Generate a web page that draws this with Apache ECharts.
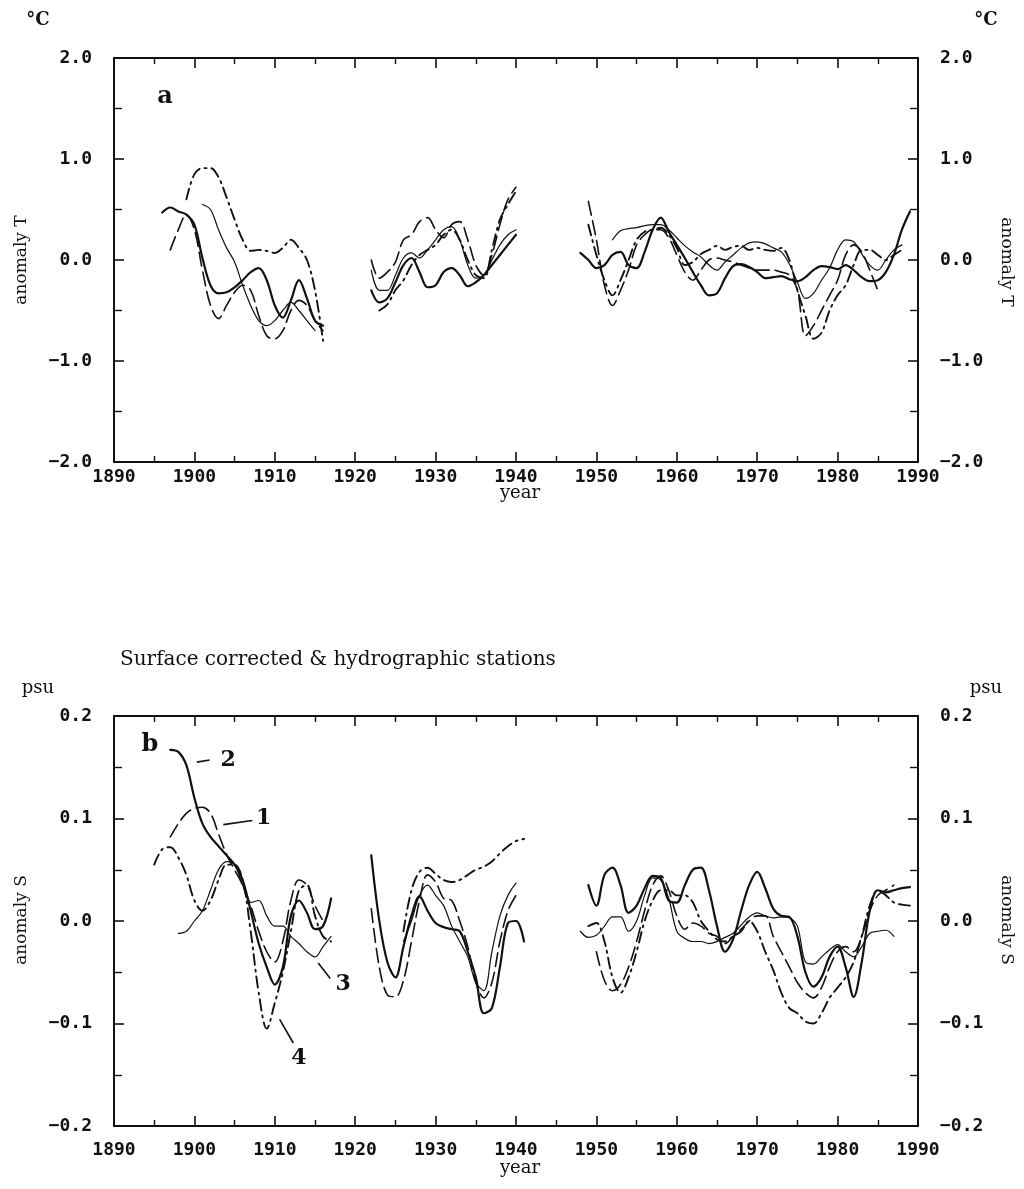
<!DOCTYPE html>
<html>
<head>
<meta charset="utf-8">
<script src="https://cdn.jsdelivr.net/npm/echarts@6/dist/echarts.min.js"></script>
<style>
  html, body { margin: 0; padding: 0; background: #fff; }
  #chart { width: 1024px; height: 1189px; }
</style>
</head>
<body>
<div id="chart"></div>
<script>
// years 1895 .. 1990, one value per year, null = no data
const years = [];
for (let y = 1895; y <= 1990; y++) years.push(y);

const xTicks = [1890, 1900, 1910, 1920, 1930, 1940, 1950, 1960, 1970, 1980, 1990];
const tempTicks = [-2, -1, 0, 1, 2];
const salTicks = [-0.2, -0.1, 0, 0.1, 0.2];

// panel a: temperature anomaly (°C)
const tempLongDash = [
  null, null, 0.1, 0.3, 0.45,
  0.3, -0.1, -0.45, -0.58, -0.45, -0.32, -0.25, -0.3, -0.55, -0.75,
  -0.78, -0.7, -0.5, -0.4, -0.45, -0.6, -0.7, null, null, null,
  null, null, 0.0, -0.18, -0.12, -0.02, 0.2, 0.25, 0.38, 0.42,
  0.3, 0.22, 0.35, 0.38, 0.2, -0.05, -0.15, 0.05, 0.35, 0.6,
  0.72, null, null, null, null, null, null, null, null, 0.58,
  0.2, -0.25, -0.45, -0.3, -0.1, 0.15, 0.25, 0.3, 0.3, 0.22,
  0.05, -0.12, -0.2, -0.1, 0.0, 0.02, 0.0, -0.02, -0.05, -0.08,
  -0.1, -0.1, -0.1, -0.12, -0.15, -0.3, -0.75, -0.65, -0.5, -0.35,
  -0.2, 0.05, 0.15, 0.08, -0.1, -0.3, null, null, null, null,
  null
];
const tempSolid = [
  null, 0.47, 0.52, 0.48, 0.45,
  0.35, 0.02, -0.25, -0.33, -0.32, -0.27, -0.2, -0.12, -0.08, -0.2,
  -0.45, -0.57, -0.4, -0.2, -0.38, -0.6, -0.65, null, null, null,
  null, null, -0.3, -0.42, -0.38, -0.22, -0.05, 0.02, -0.12, -0.27,
  -0.25, -0.12, -0.08, -0.15, -0.26, -0.22, -0.15, -0.05, 0.05, 0.15,
  0.25, null, null, null, null, null, null, null, 0.07, 0.0,
  -0.08, -0.05, 0.05, 0.08, -0.05, -0.08, 0.08, 0.3, 0.42, 0.28,
  0.15, 0.02, -0.12, -0.25, -0.35, -0.33, -0.18, -0.06, -0.04, -0.07,
  -0.12, -0.18, -0.17, -0.16, -0.19, -0.21, -0.17, -0.1, -0.06, -0.07,
  -0.09, -0.05, -0.1, -0.17, -0.21, -0.2, -0.12, 0.05, 0.3, 0.48,
  null
];
const tempThin = [
  null, null, null, null, null,
  null, 0.55, 0.5, 0.3, 0.12, -0.02, -0.25, -0.45, -0.6, -0.65,
  -0.6, -0.5, -0.42, -0.5, -0.6, -0.7, null, null, null, null,
  null, null, -0.1, -0.3, -0.3, -0.15, 0.02, 0.07, 0.02, 0.1,
  0.2, 0.3, 0.33, 0.2, -0.05, -0.18, -0.15, 0.0, 0.15, 0.25,
  0.3, null, null, null, null, null, null, null, null, null,
  null, null, 0.2, 0.29, 0.31, 0.32, 0.34, 0.35, 0.35, 0.3,
  0.22, 0.14, 0.08, 0.03, -0.05, -0.1, -0.02, 0.05, 0.12, 0.17,
  0.18, 0.16, 0.12, 0.08, -0.04, -0.22, -0.38, -0.33, -0.2, -0.08,
  0.1, 0.2, 0.18, 0.06, -0.05, -0.1, 0.0, 0.1, 0.15, null,
  null
];
const tempDashDot = [
  null, null, null, null, 0.6,
  0.85, 0.91, 0.91, 0.82, 0.62, 0.4, 0.2, 0.09, 0.1, 0.09,
  0.07, 0.12, 0.2, 0.12, 0.0, -0.3, -0.8, null, null, null,
  null, null, null, -0.5, -0.44, -0.3, -0.2, -0.05, 0.05, 0.1,
  0.15, 0.25, 0.3, 0.2, 0.0, -0.15, -0.18, 0.1, 0.4, 0.55,
  0.68, null, null, null, null, null, null, null, null, 0.35,
  0.05, -0.2, -0.35, -0.2, 0.0, 0.2, 0.28, 0.3, 0.32, 0.25,
  0.12, -0.05, -0.02, 0.06, 0.1, 0.14, 0.1, 0.13, 0.14, 0.1,
  0.12, 0.1, 0.09, 0.12, 0.0, -0.3, -0.55, -0.78, -0.72, -0.5,
  -0.35, -0.25, -0.05, 0.1, 0.1, 0.05, 0.0, 0.05, 0.1, null,
  null
];

// panel b: salinity anomaly (psu)
const salLongDash = [
  null, null, 0.082, 0.095, 0.105,
  0.11, 0.111, 0.105, 0.085, 0.065, 0.05, 0.035, 0.015, -0.01, -0.03,
  -0.04, -0.02, 0.02, 0.04, 0.035, 0.015, 0.0, null, null, null,
  null, null, 0.012, -0.045, -0.072, -0.074, -0.058, -0.02, 0.02, 0.045,
  0.038, 0.022, 0.02, 0.0, -0.025, -0.06, -0.075, -0.06, -0.02, 0.01,
  0.025, null, null, null, null, null, null, null, null, null,
  -0.03, -0.058, -0.068, -0.062, -0.045, -0.02, 0.01, 0.035, 0.044, 0.03,
  0.005, -0.008, -0.002, -0.005, -0.012, -0.015, -0.022, -0.015, -0.008, 0.0,
  0.005, 0.005, -0.015, -0.03, -0.045, -0.06, -0.07, -0.075, -0.065, -0.045,
  -0.03, -0.025, -0.03, -0.015, 0.01, 0.025, 0.03, 0.035, null, null,
  null
];
const salSolid = [
  null, null, 0.167, 0.165, 0.152,
  0.12, 0.095, 0.082, 0.073, 0.064, 0.055, 0.04, 0.01, -0.022, -0.045,
  -0.062, -0.045, 0.005, 0.02, 0.008, -0.008, -0.005, 0.022, null, null,
  null, null, 0.064, 0.0, -0.04, -0.055, -0.025, 0.005, 0.024, 0.01,
  -0.002, -0.006, -0.008, -0.01, -0.03, -0.055, -0.09, -0.085, -0.045, -0.002,
  0.0, -0.02, null, null, null, null, null, null, null, 0.035,
  0.015, 0.045, 0.052, 0.035, 0.008, 0.015, 0.032, 0.044, 0.042, 0.02,
  0.018, 0.035, 0.05, 0.052, 0.03, -0.005, -0.03, -0.018, 0.01, 0.035,
  0.048, 0.032, 0.012, 0.005, 0.004, -0.015, -0.05, -0.064, -0.055, -0.035,
  -0.025, -0.045, -0.074, -0.04, 0.01, 0.03, 0.028, 0.03, 0.032, 0.033,
  null
];
const salThin = [
  null, null, null, -0.012, -0.01,
  0.0, 0.01, 0.03, 0.05, 0.058, 0.055, 0.035, 0.018, 0.02, 0.005,
  -0.005, -0.005, -0.015, -0.022, -0.03, -0.035, -0.025, -0.015, null, null,
  null, null, null, null, null, null, -0.02, 0.0, 0.025, 0.035,
  0.025, 0.015, -0.005, -0.02, -0.035, -0.06, -0.068, -0.03, 0.005, 0.025,
  0.037, null, null, null, null, null, null, null, -0.01, -0.016,
  -0.014, -0.005, 0.004, 0.004, -0.01, 0.0, 0.025, 0.042, 0.04, 0.022,
  -0.01, -0.017, -0.02, -0.02, -0.022, -0.02, -0.016, -0.012, -0.004, 0.004,
  0.008, 0.005, 0.003, 0.004, 0.003, -0.005, -0.04, -0.042, -0.035, -0.028,
  -0.023, -0.03, -0.035, -0.025, -0.012, -0.01, -0.009, -0.015, null, null,
  null
];
const salDashDot = [
  0.055, 0.07, 0.072, 0.062, 0.045,
  0.02, 0.01, 0.02, 0.04, 0.055, 0.055, 0.04, -0.01, -0.07, -0.105,
  -0.08, -0.05, -0.01, 0.03, 0.035, 0.005, -0.015, -0.02, null, null,
  null, null, null, null, null, null, -0.01, 0.03, 0.048, 0.052,
  0.046, 0.04, 0.038, 0.04, 0.045, 0.05, 0.053, 0.058, 0.066, 0.073,
  0.078, 0.08, null, null, null, null, null, null, null, -0.005,
  -0.002, -0.02, -0.055, -0.07, -0.055, -0.03, 0.0, 0.02, 0.03, 0.03,
  0.025, 0.025, 0.018, 0.0, -0.01, -0.018, -0.02, -0.015, -0.01, 0.0,
  -0.01, -0.03, -0.048, -0.07, -0.085, -0.09, -0.098, -0.1, -0.09, -0.075,
  -0.065, -0.055, -0.04, -0.015, 0.015, 0.03, 0.025, 0.018, 0.016, 0.015,
  null
];

// curve labels of panel b: text, text position, leader line from/to (data coords)
const curveLabels = [
  { text: '2', at: [1904.2, 0.157], from: [1900.3, 0.155], to: [1901.9, 0.157] },
  { text: '1', at: [1908.6, 0.100], from: [1903.6, 0.094], to: [1907.2, 0.098] },
  { text: '3', at: [1918.5, -0.062], from: [1915.4, -0.041], to: [1916.9, -0.056] },
  { text: '4', at: [1913.0, -0.134], from: [1910.6, -0.096], to: [1912.3, -0.119] }
];

const INK = '#111';
const numFont = 'DejaVu Sans Mono';
const txtFont = 'DejaVu Serif';

function pairs(vals) {
  return years.map((y, i) => [y, vals[i] == null ? '-' : vals[i]]);
}
function fmt(v) {
  return v.toFixed(1).replace('-', '\u2212');
}

const styles = {
  longDash: { type: [14, 6], width: 1.6 },
  solid: { type: 'solid', width: 2.2 },
  thin: { type: 'solid', width: 1.2 },
  dashDot: { type: [11, 5, 2, 5], width: 1.9 }
};

function line(vals, style, idx) {
  return {
    type: 'line',
    xAxisIndex: idx * 2,
    yAxisIndex: idx * 2,
    data: pairs(vals),
    smooth: 0.35,
    showSymbol: false,
    symbol: 'none',
    connectNulls: false,
    silent: true,
    lineStyle: Object.assign({ color: INK, cap: 'round' }, style)
  };
}

function xAxisFor(grid, pos, margin) {
  return {
    type: 'value', gridIndex: grid, position: pos,
    min: xTicks[0], max: xTicks[xTicks.length - 1], interval: 10,
    axisLine: { show: true, onZero: false, lineStyle: { color: INK, width: 2 } },
    axisTick: { show: true, inside: true, length: 10, lineStyle: { color: INK, width: 1.6 } },
    minorTick: { show: true, splitNumber: 2, length: 6, lineStyle: { color: INK, width: 1.4 } },
    axisLabel: pos === 'bottom'
      ? { show: true, margin: margin, color: INK, fontFamily: numFont, fontSize: 18, fontWeight: 'bold', formatter: v => String(v) }
      : { show: false },
    splitLine: { show: false }
  };
}

function yAxisFor(grid, pos, ticks) {
  return {
    type: 'value', gridIndex: grid, position: pos,
    min: ticks[0], max: ticks[ticks.length - 1], interval: ticks[1] - ticks[0],
    axisLine: { show: true, onZero: false, lineStyle: { color: INK, width: 2 } },
    axisTick: { show: true, inside: true, length: 10, lineStyle: { color: INK, width: 1.6 } },
    minorTick: { show: true, splitNumber: 2, length: 8, lineStyle: { color: INK, width: 1.4 } },
    axisLabel: { show: true, margin: 22, color: INK, fontFamily: numFont, fontSize: 18, fontWeight: 'bold', formatter: fmt },
    splitLine: { show: false }
  };
}

const chart = echarts.init(document.getElementById('chart'), null, { renderer: 'canvas' });

const option = {
  animation: false,
  backgroundColor: '#fff',
  grid: [
    { left: 114, top: 58, width: 804, height: 404 },
    { left: 114, top: 716, width: 804, height: 410 }
  ],
  xAxis: [
    xAxisFor(0, 'bottom', 6), xAxisFor(0, 'top'),
    xAxisFor(1, 'bottom', 15), xAxisFor(1, 'top')
  ],
  yAxis: [
    yAxisFor(0, 'left', tempTicks), yAxisFor(0, 'right', tempTicks),
    yAxisFor(1, 'left', salTicks), yAxisFor(1, 'right', salTicks)
  ],
  series: [
    line(tempLongDash, styles.longDash, 0),
    line(tempSolid, styles.solid, 0),
    line(tempThin, styles.thin, 0),
    line(tempDashDot, styles.dashDot, 0),
    line(salLongDash, styles.longDash, 1),
    line(salSolid, styles.solid, 1),
    line(salThin, styles.thin, 1),
    line(salDashDot, styles.dashDot, 1)
  ]
};
chart.setOption(option);

// text around the panels
function txt(x, y, s, extra) {
  return Object.assign({
    type: 'text', x: x, y: y, silent: true,
    style: Object.assign({ text: s, fill: INK, font: '17px "' + txtFont + '"', textAlign: 'center', textVerticalAlign: 'middle' }, extra && extra.style)
  }, extra && extra.el);
}

const unitFont = 'bold 18px "' + txtFont + '"';
const graphics = [
  txt(38, 20, '\u00b0C', { style: { font: unitFont } }),
  txt(986, 20, '\u00b0C', { style: { font: unitFont } }),
  txt(22, 260, 'anomaly T', { el: { rotation: Math.PI / 2 } }),
  txt(1006, 262, 'anomaly T', { el: { rotation: -Math.PI / 2 } }),
  txt(165, 97, 'a', { style: { font: 'bold 24px "' + txtFont + '"' } }),
  txt(520, 493, 'year', { style: { font: '18px "' + txtFont + '"' } }),
  txt(120, 660, 'Surface corrected & hydrographic stations', { style: { textAlign: 'left', font: '20px "' + txtFont + '"' } }),
  txt(38, 688, 'psu', { style: { font: '18px "' + txtFont + '"' } }),
  txt(986, 688, 'psu', { style: { font: '18px "' + txtFont + '"' } }),
  txt(22, 920, 'anomaly S', { el: { rotation: Math.PI / 2 } }),
  txt(1006, 920, 'anomaly S', { el: { rotation: -Math.PI / 2 } }),
  txt(150, 745, 'b', { style: { font: 'bold 24px "' + txtFont + '"' } }),
  txt(520, 1168, 'year', { style: { font: '18px "' + txtFont + '"' } })
];

curveLabels.forEach(function (c) {
  const p = chart.convertToPixel({ gridIndex: 1 }, c.at);
  const a = chart.convertToPixel({ gridIndex: 1 }, c.from);
  const b = chart.convertToPixel({ gridIndex: 1 }, c.to);
  graphics.push(txt(p[0], p[1], c.text, { style: { font: 'bold 22px "' + txtFont + '"' } }));
  graphics.push({
    type: 'line', silent: true,
    shape: { x1: a[0], y1: a[1], x2: b[0], y2: b[1] },
    style: { stroke: INK, lineWidth: 1.6 }
  });
});

chart.setOption({ graphic: graphics });
</script>
</body>
</html>
